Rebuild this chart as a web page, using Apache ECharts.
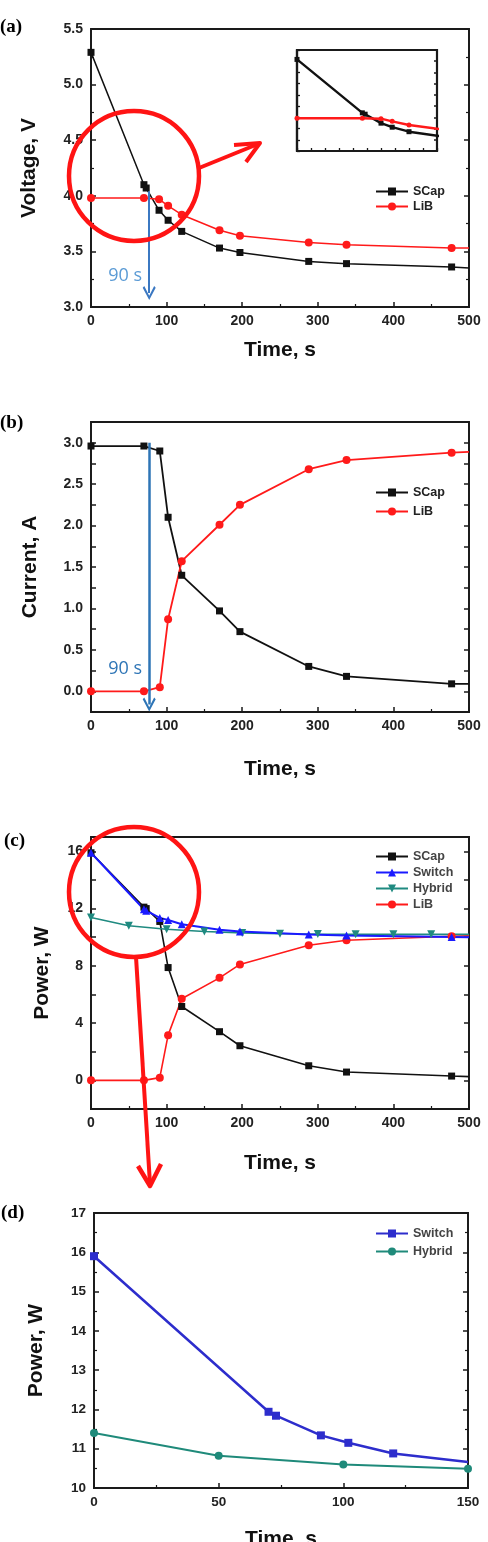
<!DOCTYPE html>
<html><head><meta charset="utf-8">
<script src="https://cdn.jsdelivr.net/npm/echarts@6/dist/echarts.min.js"></script>
<style>html,body{margin:0;padding:0;background:#fff}#c{width:488px;height:1542px}</style>
</head><body><div id="c"></div>
<script>
// ---------------- data ----------------
// (a) Voltage vs time
const timeA_SCap = [0, 70, 73, 90, 102, 120, 170, 197, 288, 338, 477, 500];
const voltA_SCap = [5.29, 4.10, 4.07, 3.87, 3.78, 3.68, 3.53, 3.49, 3.41, 3.39, 3.36, 3.35];
const timeA_LiB = [0, 70, 90, 102, 120, 170, 197, 288, 338, 477, 500];
const voltA_LiB = [3.98, 3.98, 3.97, 3.91, 3.83, 3.69, 3.64, 3.58, 3.56, 3.53, 3.53];
// (b) Current vs time
const timeB_SCap = [0, 70, 91, 102, 120, 170, 197, 288, 338, 477, 500];
const currB_SCap = [2.96, 2.96, 2.90, 2.10, 1.40, 0.97, 0.72, 0.30, 0.18, 0.09, 0.09];
const timeB_LiB = [0, 70, 91, 102, 120, 170, 197, 288, 338, 477, 500];
const currB_LiB = [0, 0, 0.05, 0.87, 1.57, 2.01, 2.25, 2.68, 2.79, 2.88, 2.89];
// (c) Power vs time
const timeC_SCap = [0, 70, 73, 91, 102, 120, 170, 197, 288, 338, 477, 500];
const powC_SCap = [15.9, 12.1, 12.0, 11.1, 7.88, 5.16, 3.4, 2.42, 1.02, 0.58, 0.30, 0.26];
const timeC_Switch = [0, 70, 73, 91, 102, 120, 170, 197, 288, 338, 477, 500];
const powC_Switch = [15.9, 11.95, 11.85, 11.35, 11.2, 10.9, 10.52, 10.4, 10.19, 10.12, 10.02, 10.0];
const timeC_Hybrid = [0, 50, 100, 150, 200, 250, 300, 350, 400, 450, 500];
const powC_Hybrid = [11.38, 10.8, 10.56, 10.4, 10.3, 10.24, 10.22, 10.21, 10.2, 10.2, 10.2];
const timeC_LiB = [0, 70, 91, 102, 120, 170, 197, 288, 338, 477, 500];
const powC_LiB = [0, 0, 0.19, 3.16, 5.7, 7.16, 8.1, 9.44, 9.79, 10.07, 10.1];
// (d) Power vs time (zoom)
const timeD_Switch = [0, 70, 73, 91, 102, 120, 150];
const powD_Switch = [15.9, 11.94, 11.84, 11.34, 11.15, 10.88, 10.66];
const timeD_Hybrid = [0, 50, 100, 150];
const powD_Hybrid = [11.4, 10.82, 10.6, 10.49];
// annotation
const switchTime = 77;
const switchLabel = '90 s';
const panelLabels = ['(a)', '(b)', '(c)', '(d)'];
const axisTitles = { time: 'Time, s', volt: 'Voltage, V', curr: 'Current, A', power: 'Power, W' };

// ---------------- helpers ----------------
const FONT = "'Liberation Sans', Arial, sans-serif";
const AX = '#1a1a1a';
const pairs = (t, v) => t.map((x, i) => [x, v[i]]);

function labelStyle(size, margin, formatter) {
  const s = { show: true, color: '#222', fontSize: size, fontWeight: 'bold', fontFamily: FONT, showMinLabel: true, showMaxLabel: true, hideOverlap: false, margin };
  if (formatter) s.formatter = formatter;
  return s;
}
function baseAxis(extra) {
  return Object.assign({
    type: 'value',
    axisLine: { show: true, onZero: false, lineStyle: { color: AX, width: 1.8 } },
    axisTick: { show: true, inside: true, length: 5, lineStyle: { color: AX, width: 1.5 } },
    minorTick: { show: false },
    splitLine: { show: false }, minorSplitLine: { show: false },
    axisLabel: labelStyle(14, 7),
    nameLocation: 'middle',
    nameTextStyle: { fontSize: 21, fontWeight: 'bold', color: '#111', fontFamily: FONT }
  }, extra);
}
function minor(n) { return { show: true, splitNumber: n, length: 3, lineStyle: { color: AX, width: 1.2 } }; }

function mkLine(name, xi, yi, t, v, color, symbol, size, width, hideAt, extra) {
  return Object.assign({
    type: 'line', name, xAxisIndex: xi, yAxisIndex: yi,
    data: pairs(t, v), color, symbol,
    symbolSize: (val) => (hideAt !== null && val[0] >= hideAt ? 0 : size),
    showSymbol: true, showAllSymbol: true,
    lineStyle: { color, width }, itemStyle: { color },
    animation: false, clip: true
  }, extra || {});
}

const CHEVRON = 'path://M10,0 L20,13 L17.6,14.8 L10,4.6 L2.4,14.8 L0,13 Z';
const DOWN_TRI = 'path://M0,0 L12,0 L6,10 Z';
const RED = '#ff1a1a', BLACK = '#111111', BLUE = '#1a1aff', TEAL = '#1f8a80';

const grids = [
  { left: 91, top: 29, width: 378, height: 278 },   // a
  { left: 297, top: 50, width: 140, height: 101 },  // a inset
  { left: 91, top: 422, width: 378, height: 290 },  // b
  { left: 91, top: 837, width: 378, height: 272 },  // c
  { left: 94, top: 1213, width: 374, height: 275 }  // d
].map(g => Object.assign({ show: true, borderColor: AX, borderWidth: 1.8, backgroundColor: 'transparent', containLabel: false, outerBoundsMode: 'none' }, g));
grids[1].borderWidth = 2.2;

const xAxes = [
  baseAxis({ gridIndex: 0, min: 0, max: 500, interval: 100, minorTick: minor(2), name: axisTitles.time, nameGap: 33 }),
  baseAxis({ gridIndex: 1, min: 0, max: 150, interval: 15, axisLabel: { show: false }, axisTick: { show: true, inside: true, length: 3, lineStyle: { color: AX, width: 1.3 } }, axisLine: { show: true, onZero: false, lineStyle: { color: AX, width: 2.2 } } }),
  baseAxis({ gridIndex: 2, min: 0, max: 500, interval: 100, minorTick: minor(2), name: axisTitles.time, nameGap: 47 }),
  baseAxis({ gridIndex: 3, min: 0, max: 500, interval: 100, minorTick: minor(2), name: axisTitles.time, nameGap: 44 }),
  baseAxis({ gridIndex: 4, min: 0, max: 150, interval: 50, minorTick: minor(2), name: axisTitles.time, nameGap: 41, axisLabel: labelStyle(13.5, 7) })
];

const fmtHalf = v => (Math.abs(v * 2 - Math.round(v * 2)) < 1e-6 ? v.toFixed(1) : '');
const fmt4 = v => (Math.abs(v % 4) < 1e-6 ? String(v) : '');
function rightMirror(gi, min, max, interval, minorN, len) {
  return baseAxis({ gridIndex: gi, position: 'right', min, max, interval,
    axisLabel: { show: false }, minorTick: minorN ? minor(minorN) : { show: false },
    axisTick: { show: true, inside: true, length: len || 5, lineStyle: { color: AX, width: 1.5 } } });
}
const yAxes = [
  baseAxis({ gridIndex: 0, min: 3.0, max: 5.5, interval: 0.5, minorTick: minor(2), name: axisTitles.volt, nameGap: 51,
    axisLabel: labelStyle(14, 8, v => v.toFixed(1)) }),
  rightMirror(0, 3.0, 5.5, 0.5, 2),
  baseAxis({ gridIndex: 1, min: 3.25, max: 5.5, interval: 0.25, axisLabel: { show: false },
    axisTick: { show: true, inside: true, length: 3, lineStyle: { color: AX, width: 1.3 } }, axisLine: { show: true, onZero: false, lineStyle: { color: AX, width: 2.2 } } }),
  rightMirror(1, 3.25, 5.5, 0.25, 0, 3),
  baseAxis({ gridIndex: 2, min: -0.25, max: 3.25, interval: 0.25, name: axisTitles.curr, nameGap: 50,
    axisLabel: labelStyle(14, 8, fmtHalf) }),
  rightMirror(2, -0.25, 3.25, 0.25, 0),
  baseAxis({ gridIndex: 3, min: -2, max: 17, interval: 2, name: axisTitles.power, nameGap: 38,
    axisLabel: labelStyle(14, 8, fmt4) }),
  rightMirror(3, -2, 17, 2, 0),
  baseAxis({ gridIndex: 4, min: 10, max: 17, interval: 1, minorTick: minor(2), name: axisTitles.power, nameGap: 47,
    axisLabel: labelStyle(13.5, 8) }),
  rightMirror(4, 10, 17, 1, 2)
];

const arrowLine = (color, width, from, to) => ({
  silent: true, symbol: ['none', CHEVRON], symbolSize: [13, 14],
  lineStyle: { color, width, type: 'solid' }, label: { show: false }, emphasis: { disabled: true },
  data: [[{ coord: from }, { coord: to }]]
});

const series = [
  // (a)
  mkLine('SCap', 0, 0, timeA_SCap, voltA_SCap, BLACK, 'rect', 7, 1.5, 500,
    { markLine: arrowLine('#3b78c2', 2, [switchTime, 4.04], [switchTime, 3.125]) }),
  mkLine('LiB', 0, 0, timeA_LiB, voltA_LiB, RED, 'circle', 8, 1.5, 500),
  // (a) inset
  mkLine('SCap_in', 1, 2, timeA_SCap, voltA_SCap, BLACK, 'rect', 5, 2.4, null),
  mkLine('LiB_in', 1, 2, timeA_LiB, voltA_LiB, RED, 'circle', 5, 2.4, null),
  // (b)
  mkLine('SCap', 2, 4, timeB_SCap, currB_SCap, BLACK, 'rect', 7, 1.8, 500,
    { markLine: arrowLine('#2e75b6', 2.5, [switchTime, 3.0], [switchTime, -0.16]) }),
  mkLine('LiB', 2, 4, timeB_LiB, currB_LiB, RED, 'circle', 8, 1.8, 500),
  // (c)
  mkLine('SCap', 3, 6, timeC_SCap, powC_SCap, BLACK, 'rect', 7, 1.6, 500),
  mkLine('LiB', 3, 6, timeC_LiB, powC_LiB, RED, 'circle', 8, 1.6, 500),
  mkLine('Hybrid', 3, 6, timeC_Hybrid, powC_Hybrid, TEAL, DOWN_TRI, 8, 1.6, 500),
  mkLine('Switch', 3, 6, timeC_Switch, powC_Switch, BLUE, 'triangle', 8, 2, 500),
  // (d)
  mkLine('Switch_d', 4, 8, timeD_Switch, powD_Switch, '#2d2dcc', 'rect', 8, 2.5, 150),
  mkLine('Hybrid_d', 4, 8, timeD_Hybrid, powD_Hybrid, '#1f8a7a', 'circle', 8, 2, null)
];

function legend(names, top, gap, dark) {
  return { data: names, left: 375, top, orient: 'vertical', padding: 0, itemWidth: 32, itemHeight: 10, itemGap: gap,
    selectedMode: false, formatter: n => n.replace(/_d$/, ''),
    textStyle: { fontSize: 12.5, fontWeight: 'bold', color: dark ? '#222' : '#444', fontFamily: FONT } };
}
const legends = [
  legend(['SCap', 'LiB'], 185, 2, true),
  legend(['SCap', 'LiB'], 486, 6, true),
  legend(['SCap', 'Switch', 'Hybrid', 'LiB'], 850, 3, false),
  legend(['Switch_d', 'Hybrid_d'], 1227, 5, false)
];

const RC = '#ff1414';
const graphic = [
  { type: 'text', left: 0, top: 18, style: { text: panelLabels[0], font: 'bold 19px "Liberation Serif", serif', fill: '#000' } },
  { type: 'text', left: 0, top: 414, style: { text: panelLabels[1], font: 'bold 19px "Liberation Serif", serif', fill: '#000' } },
  { type: 'text', left: 4, top: 832, style: { text: panelLabels[2], font: 'bold 19px "Liberation Serif", serif', fill: '#000' } },
  { type: 'text', left: 1, top: 1204, style: { text: panelLabels[3], font: 'bold 19px "Liberation Serif", serif', fill: '#000' } },
  { type: 'text', x: 142, y: 276, z: 50, style: { text: switchLabel, align: 'right', verticalAlign: 'middle', font: '18px "Open Sans", "Noto Sans", sans-serif', fill: '#5b9bd5' } },
  { type: 'text', x: 142, y: 669, z: 50, style: { text: switchLabel, align: 'right', verticalAlign: 'middle', font: '18px "Open Sans", "Noto Sans", sans-serif', fill: '#2e75b6' } },
  // (a) highlight circle and arrow to inset
  { type: 'circle', z: 100, shape: { cx: 134, cy: 176, r: 65 }, style: { fill: null, stroke: RC, lineWidth: 4.5 } },
  { type: 'polyline', z: 100, shape: { points: [[199, 168], [258, 144]] }, style: { stroke: RC, lineWidth: 4, fill: null } },
  { type: 'polyline', z: 100, shape: { points: [[234, 145], [260, 143], [246, 162]] }, style: { stroke: RC, lineWidth: 4, fill: null, lineJoin: 'round' } },
  // (c) highlight circle and arrow to (d)
  { type: 'circle', z: 100, shape: { cx: 134, cy: 892, r: 65 }, style: { fill: null, stroke: RC, lineWidth: 4.5 } },
  { type: 'polyline', z: 100, shape: { points: [[136, 957], [150, 1184]] }, style: { stroke: RC, lineWidth: 4, fill: null } },
  { type: 'polyline', z: 100, shape: { points: [[138, 1166], [150, 1186], [161, 1164]] }, style: { stroke: RC, lineWidth: 4.5, fill: null, lineJoin: 'round' } }
];

const chart = echarts.init(document.getElementById('c'), null, { renderer: 'canvas' });
chart.setOption({
  animation: false, backgroundColor: '#fff',
  grid: grids, xAxis: xAxes, yAxis: yAxes, series, legend: legends, graphic
});
</script></body></html>
